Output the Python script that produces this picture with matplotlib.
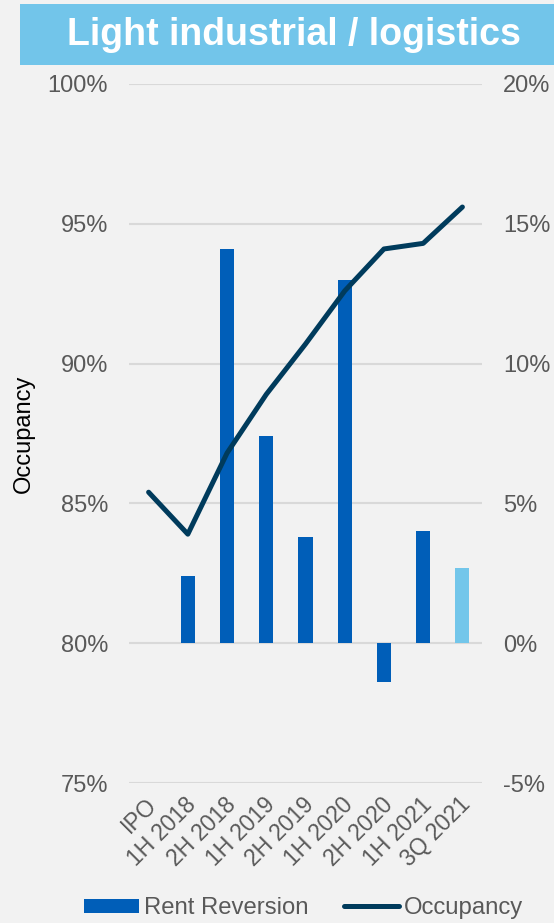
import matplotlib
matplotlib.use("Agg")
import matplotlib.pyplot as plt
import matplotlib.transforms as mtransforms
import numpy as np
from matplotlib.patches import Rectangle, Patch
from matplotlib.lines import Line2D

plt.rcParams['font.family'] = ['Liberation Sans', 'DejaVu Sans']

# data
periods = ['IPO', '1H 2018', '2H 2018', '1H 2019', '2H 2019',
           '1H 2020', '2H 2020', '1H 2021', '3Q 2021']
rent_reversion = [np.nan, 2.4, 14.1, 7.4, 3.8, 13.0, -1.4, 4.0, 2.7]
occupancy = [85.4, 83.9, 86.8, 88.9, 90.7, 92.6, 94.1, 94.3, 95.6]

bar_colors = ['#005EB8'] * 8 + ['#73C6EA']
line_color = '#003B5C'
bg = '#F2F2F2'
grey = '#595959'

fig = plt.figure(figsize=(5.54, 9.23), dpi=100, facecolor=bg)
ax = fig.add_axes([129 / 554, 1 - 783 / 923, 353 / 554, 699 / 923])
ax.set_facecolor(bg)
x = np.arange(len(periods))

# bars on the rent reversion scale (shown on the right)
ax.bar(x, rent_reversion, width=0.36, color=bar_colors, zorder=2)
ax.set_ylim(-5, 20)
ax.set_yticks(np.arange(-5, 21, 5))
ax.set_yticklabels([f'{v}%' for v in range(-5, 21, 5)])
ax.set_xlim(-0.5, len(periods) - 0.5)
ax.grid(axis='y', color='#D9D9D9', linewidth=1.5, zorder=0)
ax.set_axisbelow(True)

# occupancy line on the left scale
ax2 = ax.twinx()
ax.yaxis.tick_right()
ax2.plot(x, occupancy, color=line_color, linewidth=3.6,
         solid_capstyle='round', solid_joinstyle='round', zorder=3)
ax2.set_ylim(75, 100)
ax2.set_yticks(np.arange(75, 101, 5))
ax2.set_yticklabels([f'{v}%' for v in range(75, 101, 5)])
ax2.yaxis.tick_left()
ax2.yaxis.set_label_position('left')
ax2.set_ylabel('Occupancy', fontsize=17, color='black', labelpad=9)

for a in (ax, ax2):
    for s in a.spines.values():
        s.set_visible(False)
    a.tick_params(axis='y', length=0, labelsize=17, labelcolor=grey, pad=15)

ax.set_xticks(x)
ax.set_xticklabels(periods, rotation=45, ha='right', va='center',
                   rotation_mode='anchor')
ax.tick_params(axis='x', length=0, labelsize=16.5, labelcolor=grey, pad=13)
shift = mtransforms.ScaledTranslation(5 / 100, 0, fig.dpi_scale_trans)
for lbl in ax.get_xticklabels():
    lbl.set_transform(lbl.get_transform() + shift)

# title banner
fig.patches.append(Rectangle((20 / 554, 1 - 65 / 923), 1 - 20 / 554, 61 / 923,
                             transform=fig.transFigure, facecolor='#72C5EA',
                             edgecolor='none', zorder=0))
fig.text(0.531, 1 - 35 / 923, 'Light industrial / logistics', color='white',
         fontsize=27, fontweight='bold', ha='center', va='center')

handles = [Patch(facecolor='#005EB8', label='Rent Reversion'),
           Line2D([0], [0], color=line_color, linewidth=3.6,
                  solid_capstyle='round', label='Occupancy')]
leg = fig.legend(handles=handles, loc='center', bbox_to_anchor=(0.548, 0.016),
                 ncol=2, frameon=False, fontsize=17.2, handlelength=2.3,
                 handleheight=0.55, handletextpad=0.2, columnspacing=1.5)
for t in leg.get_texts():
    t.set_color(grey)

fig.savefig('out.png', dpi=100, facecolor=bg)
